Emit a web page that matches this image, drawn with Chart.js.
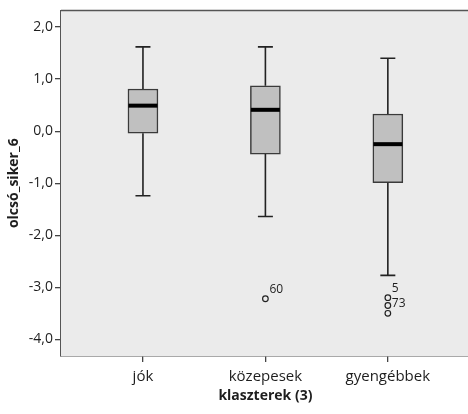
<!DOCTYPE html>
<html>
<head>
<meta charset="utf-8">
<script src="https://cdn.jsdelivr.net/npm/chart.js@4"></script>
<style>
  html, body { margin: 0; padding: 0; background: #fff; overflow: hidden; }
  #wrap { width: 468px; height: 414px; overflow: hidden; }
</style>
</head>
<body>
<div id="wrap"><canvas id="boxChart" width="475" height="414"></canvas></div>
<script>
// Klaszterek szerinti boxplot (olcsó_siker_6)
const klaszterek = ['jók', 'közepesek', 'gyengébbek'];
const also = [-1.24, -1.64, -2.77];     // alsó bajusz
const q1 = [-0.04, -0.44, -0.99];
const median = [0.49, 0.41, -0.25];
const q3 = [0.81, 0.87, 0.33];
const felso = [1.62, 1.62, 1.40];       // felső bajusz

// kiugró értékek: melyik klaszter, érték, esetszám
const kiugroKlaszter = [2, 3, 3, 3];
const kiugroErtek = [-3.22, -3.20, -3.35, -3.50];
const kiugroCimke = ['60', '5', '', '73'];

const yTicks = [2, 1, 0, -1, -2, -3, -4];
const xTicks = [1, 2, 3];

const fontNev = "'Open Sans', 'DejaVu Sans', sans-serif";
const szoveg = '#1e1e1e';

// hátterek és keret
const hatter = {
    id: 'hatter',
    beforeDatasetsDraw(chart) {
        const { ctx, chartArea: a } = chart;
        ctx.save();
        ctx.fillStyle = '#ebebeb';
        ctx.fillRect(a.left, a.top, a.right - a.left, a.bottom - a.top);
        ctx.strokeStyle = '#555';
        ctx.lineWidth = 1.5;
        ctx.beginPath();
        ctx.moveTo(a.left, a.top);
        ctx.lineTo(a.right, a.top);
        ctx.stroke();
        ctx.restore();
    }
};

// bajuszok, mediánok, esetszámok
const boxRajz = {
    id: 'boxRajz',
    afterDatasetsDraw(chart) {
        const { ctx } = chart;
        const x = chart.scales.x, y = chart.scales.y;
        ctx.save();
        ctx.strokeStyle = '#222';
        ctx.lineWidth = 1.6;
        klaszterek.forEach((k, i) => {
            const cx = x.getPixelForValue(i + 1);
            const half = 7.5;
            ctx.beginPath();
            ctx.moveTo(cx, y.getPixelForValue(felso[i]));
            ctx.lineTo(cx, y.getPixelForValue(q3[i]));
            ctx.moveTo(cx, y.getPixelForValue(q1[i]));
            ctx.lineTo(cx, y.getPixelForValue(also[i]));
            ctx.moveTo(cx - half, y.getPixelForValue(felso[i]));
            ctx.lineTo(cx + half, y.getPixelForValue(felso[i]));
            ctx.moveTo(cx - half, y.getPixelForValue(also[i]));
            ctx.lineTo(cx + half, y.getPixelForValue(also[i]));
            ctx.stroke();
        });
        ctx.strokeStyle = '#000';
        ctx.lineWidth = 4;
        klaszterek.forEach((k, i) => {
            const cx = x.getPixelForValue(i + 1);
            const my = y.getPixelForValue(median[i]);
            ctx.beginPath();
            ctx.moveTo(cx - 14.5, my);
            ctx.lineTo(cx + 14.5, my);
            ctx.stroke();
        });
        ctx.fillStyle = szoveg;
        ctx.font = "12px " + fontNev;
        ctx.textAlign = 'left';
        ctx.textBaseline = 'middle';
        kiugroCimke.forEach((c, i) => {
            if (!c) return;
            const px = x.getPixelForValue(kiugroKlaszter[i]);
            const py = y.getPixelForValue(kiugroErtek[i]);
            ctx.fillText(c, px + 4, py - 9.5);
        });
        ctx.restore();
    }
};

new Chart(document.getElementById('boxChart'), {
    type: 'bar',
    data: {
        datasets: [{
            data: klaszterek.map((k, i) => ({ x: i + 1, y: [q1[i], q3[i]] })),
            backgroundColor: '#c0c0c0',
            borderColor: '#3a3a3a',
            borderWidth: 1.5,
            borderSkipped: false,
            barThickness: 30
        }, {
            type: 'scatter',
            data: kiugroErtek.map((v, i) => ({ x: kiugroKlaszter[i], y: v })),
            pointStyle: 'circle',
            pointRadius: 2.8,
            backgroundColor: 'rgba(0,0,0,0)',
            borderColor: '#222',
            borderWidth: 1.2
        }]
    },
    options: {
        responsive: false,
        animation: false,
        layout: { padding: { top: 7, left: 0, right: 0, bottom: 0 } },
        plugins: { legend: { display: false }, tooltip: { enabled: false } },
        scales: {
            x: {
                type: 'linear',
                offset: false,
                min: 1 - 83 / 124,
                max: 3 + 83 / 124,
                afterBuildTicks: s => { s.ticks = xTicks.map(v => ({ value: v })); },
                afterFit: s => { s.height = 58; },
                ticks: {
                    callback: v => klaszterek[v - 1],
                    font: { family: fontNev, size: 15 },
                    color: szoveg,
                    padding: 6,
                    maxRotation: 0
                },
                grid: { offset: false, drawOnChartArea: false, drawTicks: true, tickLength: 6, color: '#444', lineWidth: 1.3 },
                border: { display: true, color: '#555', width: 1.5 },
                title: {
                    display: true,
                    text: 'klaszterek (3)',
                    font: { family: fontNev, size: 14, weight: 'bold' },
                    color: szoveg,
                    padding: { top: 0, bottom: 10 }
                }
            },
            y: {
                min: -4.32,
                max: 2.32,
                afterBuildTicks: s => { s.ticks = yTicks.map(v => ({ value: v })); },
                afterFit: s => { s.width = 61; },
                ticks: {
                    callback: v => v.toFixed(1).replace('.', ','),
                    font: { family: fontNev, size: 14 },
                    color: szoveg,
                    padding: 2
                },
                grid: { drawOnChartArea: false, drawTicks: true, tickLength: 6, color: '#444', lineWidth: 1.3 },
                border: { display: true, color: '#555', width: 1.5 },
                title: {
                    display: true,
                    text: 'olcsó_siker_6',
                    font: { family: fontNev, size: 14, weight: 'bold' },
                    color: szoveg,
                    padding: { top: 6, bottom: 0 }
                }
            }
        }
    },
    plugins: [hatter, boxRajz]
});
</script>
</body>
</html>
